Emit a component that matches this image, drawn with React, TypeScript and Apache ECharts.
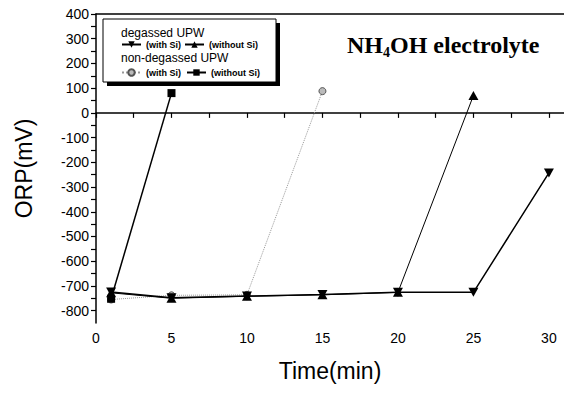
import React, { useEffect, useRef } from "react";
import * as echarts from "echarts";

const timesDegWithSi = [1, 5, 10, 15, 20, 25, 30];
const degWithSi = [-725, -748, -741, -735, -726, -726, -243];
const timesDegWithoutSi = [1, 5, 10, 15, 20, 25];
const degWithoutSi = [-728, -750, -742, -736, -726, 70];
const timesNonDegWithSi = [1, 5, 10, 15];
const nonDegWithSi = [-755, -738, -736, 88];
const timesNonDegWithoutSi = [1, 5];
const nonDegWithoutSi = [-752, 80];

const xTickLabels = [0, 5, 10, 15, 20, 25, 30];
const yTickLabels = [400, 300, 200, 100, 0, -100, -200, -300, -400, -500, -600, -700, -800];

const pair = (xs: number[], ys: number[]) => xs.map((x, i) => [x, ys[i]]);

const DOWN_TRI = "path://M0,0L10,0L5,9Z";
const UP_TRI = "path://M5,0L10,9L0,9Z";

export default function App() {
  const ref = useRef<HTMLDivElement>(null);
  useEffect(() => {
    const chart = echarts.init(ref.current!, null, { renderer: "svg" });
    const sans = "Liberation Sans";
    const common = {
      type: "line",
      showSymbol: true,
    };
    const legendText = { fontFamily: sans, fontSize: 9, fontWeight: "bold", color: "#000" };
    chart.setOption({
      animation: false,
      backgroundColor: "#fff",
      grid: { left: 96, right: 0, top: 14, bottom: 70 },
      xAxis: [
        {
          type: "value",
          min: 0,
          max: 31,
          interval: 2.5,
          name: "Time(min)",
          nameLocation: "middle",
          nameGap: 36,
          nameTextStyle: { fontFamily: sans, fontSize: 23, color: "#000" },
          axisLine: { show: true, lineStyle: { color: "#000", width: 1.5 } },
          axisTick: { show: true, inside: false, length: 5, lineStyle: { color: "#000", width: 1.2 } },
          axisLabel: {
            fontFamily: sans,
            fontSize: 14,
            color: "#000",
            margin: 8,
            showMaxLabel: false,
            formatter: (v: number) => (xTickLabels.includes(v) ? String(v) : ""),
          },
          splitLine: { show: false },
        },
        {
          type: "value",
          position: "top",
          min: 0,
          max: 31,
          axisLine: { show: true, lineStyle: { color: "#000", width: 1.5 } },
          axisTick: { show: false },
          axisLabel: { show: false },
          splitLine: { show: false },
        },
      ],
      yAxis: {
        type: "value",
        min: -850,
        max: 400,
        interval: 50,
        name: "ORP(mV)",
        nameLocation: "middle",
        nameGap: 61,
        nameTextStyle: { fontFamily: sans, fontSize: 23, color: "#000" },
        axisLine: { show: true, lineStyle: { color: "#000", width: 1.5 } },
        axisTick: { show: true, inside: false, length: 5, lineStyle: { color: "#000", width: 1.2 } },
        axisLabel: {
          fontFamily: sans,
          fontSize: 14,
          color: "#000",
          margin: 7,
          showMinLabel: false,
          formatter: (v: number) => (yTickLabels.includes(v) ? String(v) : ""),
        },
        splitLine: { show: false },
      },
      legend: [
        {
          data: ["deg (with Si)", "deg (without Si)"],
          left: 121,
          top: 40,
          orient: "horizontal",
          itemWidth: 19,
          itemHeight: 8,
          itemGap: 3,
          padding: 0,
          formatter: (n: string) => n.replace(/^\S+ /, ""),
          textStyle: legendText,
        },
        {
          data: ["nondeg (with Si)", "nondeg (without Si)"],
          left: 121,
          top: 68,
          orient: "horizontal",
          itemWidth: 19,
          itemHeight: 8,
          itemGap: 5,
          padding: 0,
          formatter: (n: string) => n.replace(/^\S+ /, ""),
          textStyle: legendText,
        },
      ],
      graphic: [
        { type: "rect", z: 0, shape: { x: 107, y: 23, width: 173, height: 63 }, style: { fill: "#000" } },
        { type: "rect", z: 1, shape: { x: 103, y: 19, width: 173, height: 63 }, style: { fill: "#fff", stroke: "#000", lineWidth: 1 } },
        { type: "text", z: 5, x: 121, y: 33, style: { text: "degassed UPW", font: `12px ${sans}`, fill: "#000", verticalAlign: "middle" } },
        { type: "text", z: 5, x: 121, y: 58, style: { text: "non-degassed UPW", font: `12px ${sans}`, fill: "#000", verticalAlign: "middle" } },
        {
          type: "text",
          z: 5,
          x: 347,
          y: 45,
          style: {
            text: "NH{sub|4}OH electrolyte",
            font: `bold 24px "Liberation Serif"`,
            fill: "#000",
            verticalAlign: "middle",
            rich: {
              sub: { font: `bold 14px "Liberation Serif"`, fill: "#000", padding: [15, 0, 0, 0] },
            },
          },
        },
      ],
      series: [
        {
          ...common,
          name: "deg (with Si)",
          data: pair(timesDegWithSi, degWithSi),
          symbol: DOWN_TRI,
          symbolSize: [10, 9],
          lineStyle: { color: "#000", width: 1.5 },
          itemStyle: { color: "#000" },
          z: 3,
        },
        {
          ...common,
          name: "deg (without Si)",
          data: pair(timesDegWithoutSi, degWithoutSi),
          symbol: UP_TRI,
          symbolSize: [10, 9],
          lineStyle: { color: "#000", width: 1 },
          itemStyle: { color: "#000" },
          z: 3,
        },
        {
          ...common,
          name: "nondeg (with Si)",
          data: pair(timesNonDegWithSi, nonDegWithSi),
          symbol: "circle",
          symbolSize: 7,
          lineStyle: { color: "#999", width: 1, type: "dotted" },
          itemStyle: { color: "#bbb", borderColor: "#555", borderWidth: 1 },
          z: 2,
        },
        {
          ...common,
          name: "nondeg (without Si)",
          data: pair(timesNonDegWithoutSi, nonDegWithoutSi),
          symbol: "rect",
          symbolSize: 8,
          lineStyle: { color: "#000", width: 1.5 },
          itemStyle: { color: "#000" },
          z: 3,
        },
      ],
    });
    return () => chart.dispose();
  }, []);
  return <div ref={ref} style={{ width: 564, height: 393, position: "absolute", left: 0, top: 0 }} />;
}
